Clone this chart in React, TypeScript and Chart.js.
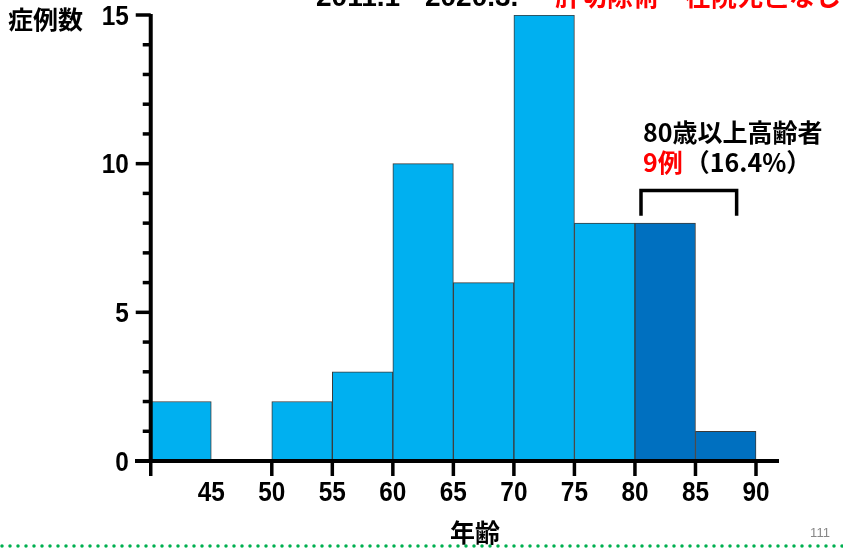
import React, { useEffect, useRef } from "react";
import { Chart, registerables } from "chart.js";

Chart.register(...registerables);

const binStarts = [40, 45, 50, 55, 60, 65, 70, 75, 80, 85];
const counts = [2, 0, 2, 3, 10, 6, 15, 8, 8, 1];
const binWidth = 5;
const elderlyFrom = 80;
const xTickValues = [40, 50, 55, 60, 65, 70, 75, 80, 85, 90];
const xLabelValues = [45, 50, 55, 60, 65, 70, 75, 80, 85, 90];
const yMajorTicks = [0, 5, 10, 15];
const yMinorTicks = [1, 2, 3, 4, 6, 7, 8, 9, 11, 12, 13, 14];
const titleBlack = "2011.1 - 2020.3.";
const titleRed = "肝切除術・在院死亡なし";
const yTitle = "症例数";
const xTitle = "年齢";
const noteLine1 = "80歳以上高齢者";
const noteRed = "9例";
const noteRest = "（16.4%）";
const pageNo = "111";

const LIGHT = "#00B0F0";
const DARK = "#0070C0";
const NUM_FONT = "bold 28px 'Liberation Sans', Arial, sans-serif";
const NUM_SQUEEZE = 0.87;
const CJK_FONT = "bold 25px 'Noto Sans CJK JP', sans-serif";

function squeezedText(ctx: CanvasRenderingContext2D, text: string, x: number, y: number) {
  ctx.save();
  ctx.translate(x, y);
  ctx.scale(NUM_SQUEEZE, 1);
  ctx.fillText(text, 0, 0);
  ctx.restore();
}

const overlay = {
  id: "overlay",
  afterDraw(chart: any) {
    const ctx = chart.ctx as CanvasRenderingContext2D;
    const xs = chart.scales.x;
    const ys = chart.scales.y;
    const area = chart.chartArea;
    const x0 = xs.getPixelForValue(40);
    const y0 = ys.getPixelForValue(0);
    ctx.save();
    ctx.strokeStyle = "#000";
    ctx.fillStyle = "#000";
    ctx.lineCap = "butt";
    // y axis
    ctx.lineWidth = 4;
    ctx.beginPath();
    ctx.moveTo(x0, ys.getPixelForValue(15) - 1);
    ctx.lineTo(x0, y0 + 2);
    ctx.stroke();
    ctx.lineWidth = 3.5;
    yMajorTicks.forEach((v) => {
      const y = ys.getPixelForValue(v);
      ctx.beginPath();
      ctx.moveTo(x0 - 15, y);
      ctx.lineTo(x0, y);
      ctx.stroke();
    });
    yMinorTicks.forEach((v) => {
      const y = ys.getPixelForValue(v);
      ctx.beginPath();
      ctx.moveTo(x0 - 8, y);
      ctx.lineTo(x0, y);
      ctx.stroke();
    });
    // x axis
    ctx.lineWidth = 4;
    ctx.beginPath();
    ctx.moveTo(area.left, y0);
    ctx.lineTo(area.right, y0);
    ctx.stroke();
    ctx.lineWidth = 3.5;
    xTickValues.forEach((v) => {
      const x = xs.getPixelForValue(v);
      ctx.beginPath();
      ctx.moveTo(x, y0);
      ctx.lineTo(x, y0 + 15);
      ctx.stroke();
    });
    // tick labels
    ctx.font = NUM_FONT;
    ctx.textBaseline = "middle";
    ctx.textAlign = "right";
    yMajorTicks.forEach((v) => {
      squeezedText(ctx, String(v), x0 - 22, ys.getPixelForValue(v) + 2);
    });
    ctx.textAlign = "center";
    xLabelValues.forEach((v) => {
      squeezedText(ctx, String(v), xs.getPixelForValue(v), 493);
    });
    // axis titles
    ctx.font = CJK_FONT;
    ctx.textAlign = "left";
    ctx.fillText(yTitle, 8, 19);
    ctx.textAlign = "center";
    ctx.fillText(xTitle, 475, 532);
    // title (cut off at top)
    ctx.textBaseline = "alphabetic";
    ctx.textAlign = "left";
    ctx.font = "bold 28px 'Liberation Sans', Arial, sans-serif";
    ctx.fillText(titleBlack, 316, 6);
    ctx.fillStyle = "#FF0000";
    ctx.font = "bold 26px 'Noto Sans CJK JP', sans-serif";
    ctx.fillText(titleRed, 555, 6);
    // note
    ctx.fillStyle = "#000";
    ctx.textBaseline = "middle";
    ctx.font = "bold 25px 'Noto Sans CJK JP', sans-serif";
    ctx.fillText(noteLine1, 643, 132);
    ctx.fillStyle = "#FF0000";
    ctx.fillText(noteRed, 643, 162);
    const w = ctx.measureText(noteRed).width;
    ctx.fillStyle = "#000";
    ctx.fillText(noteRest, 643 + w + 2, 162);
    // bracket
    ctx.lineWidth = 3.5;
    ctx.beginPath();
    const bl = xs.getPixelForValue(80.5);
    const br = xs.getPixelForValue(88.4);
    const bt = ys.getPixelForValue(9.1);
    const bb = ys.getPixelForValue(8.25);
    ctx.moveTo(bl, bb);
    ctx.lineTo(bl, bt);
    ctx.lineTo(br, bt);
    ctx.lineTo(br, bb);
    ctx.stroke();
    // footer
    ctx.fillStyle = "#888";
    ctx.font = "13px 'Liberation Sans', Arial, sans-serif";
    ctx.textAlign = "center";
    ctx.fillText(pageNo, 820, 533);
    ctx.strokeStyle = "#00B050";
    ctx.lineWidth = 3.5;
    ctx.lineCap = "round";
    ctx.setLineDash([0, 8]);
    ctx.beginPath();
    ctx.moveTo(2, 546);
    ctx.lineTo(843, 546);
    ctx.stroke();
    ctx.restore();
  },
};

export default function App() {
  const ref = useRef<HTMLCanvasElement | null>(null);
  useEffect(() => {
    if (!ref.current) return;
    const pts = binStarts
      .map((s, i) => ({ x: s + binWidth / 2, y: counts[i], s }))
      .filter((p) => p.y > 0);
    const chart = new Chart(ref.current, {
      type: "bar",
      data: {
        datasets: [
          {
            data: pts.map((p) => ({ x: p.x, y: p.y })),
            backgroundColor: pts.map((p) => (p.s >= elderlyFrom ? DARK : LIGHT)),
            borderColor: "#3a3a3a",
            borderWidth: 1,
            barPercentage: 1,
            categoryPercentage: 1,
            borderSkipped: "bottom",
          } as any,
        ],
      },
      options: {
        responsive: false,
        animation: false,
        layout: { padding: { left: 135, right: 64, top: 15, bottom: 88 } },
        plugins: { legend: { display: false }, tooltip: { enabled: false } },
        scales: {
          x: { type: "linear", min: 38.7, max: 91.9, offset: false, display: false },
          y: { type: "linear", min: 0, max: 15, display: false },
        },
      },
      plugins: [overlay],
    });
    return () => chart.destroy();
  }, []);
  return (
    <div style={{ position: "absolute", left: 0, top: 0, width: 843, height: 549, background: "#fff" }}>
      <canvas ref={ref} width={843} height={549} />
    </div>
  );
}
